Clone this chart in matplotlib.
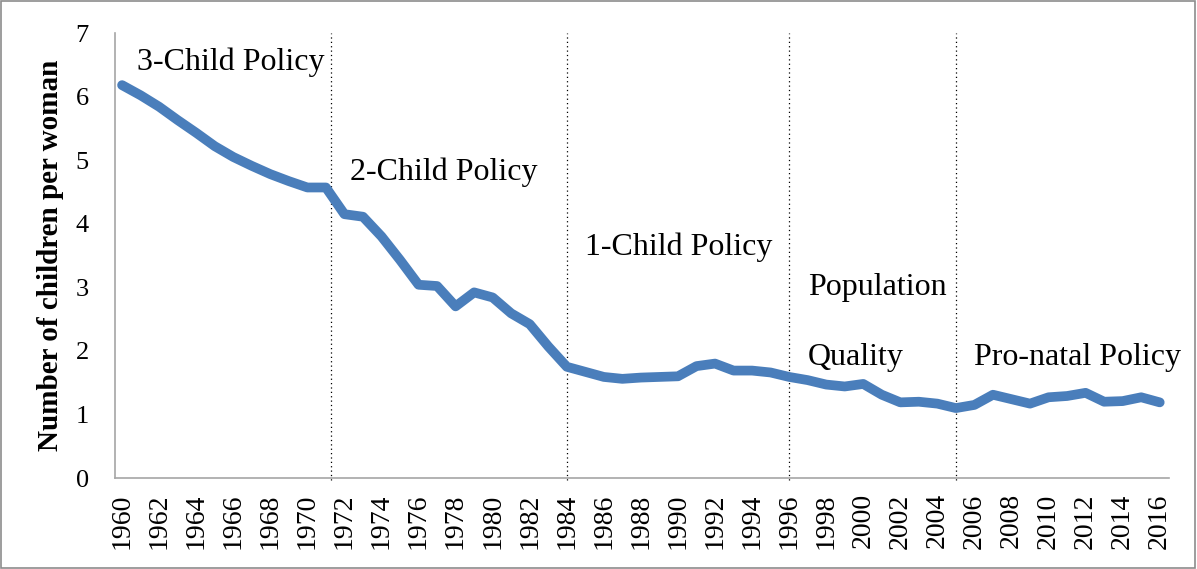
import matplotlib
matplotlib.use("Agg")
import matplotlib.pyplot as plt
from matplotlib.patches import Rectangle

years = list(range(1960, 2017))
fertility = [6.18, 6.02, 5.84, 5.63, 5.43, 5.22, 5.05, 4.91, 4.78, 4.67,
             4.57, 4.57, 4.15, 4.11, 3.80, 3.43, 3.04, 3.02, 2.70, 2.92,
             2.84, 2.59, 2.42, 2.07, 1.75, 1.67, 1.59, 1.56, 1.58, 1.59,
             1.60, 1.76, 1.80, 1.69, 1.69, 1.66, 1.59, 1.54, 1.47, 1.44,
             1.48, 1.31, 1.19, 1.20, 1.17, 1.10, 1.15, 1.31, 1.24, 1.17,
             1.27, 1.29, 1.34, 1.20, 1.21, 1.27, 1.19]
policy_breaks = [1971.3, 1984, 1996, 2005]
policy_labels = ["3-Child Policy", "2-Child Policy", "1-Child Policy",
                 "Population", "Quality", "Pro-natal Policy"]
label_x = [1960.8, 1972.3, 1985.0, 1997.0, 1997.0, 2006.0]
label_y = [6.54, 4.81, 3.63, 2.99, 1.90, 1.90]
xtick_labels = [str(y) for y in range(1960, 2017, 2)]
ylabel = "Number of children per woman"

serif = ["Liberation Serif", "DejaVu Serif"]
plt.rcParams['font.family'] = serif

fig = plt.figure(figsize=(11.97, 5.69), dpi=100)
fig.patches.append(Rectangle((0.001, 0.002), 0.997, 0.996, transform=fig.transFigure,
                             fill=False, edgecolor="#8c8c8c", linewidth=1.2))
ax = fig.add_axes([0.0961, 0.1599, 0.8805, 0.7821])

ax.plot(years, fertility, color="#4A7EBB", linewidth=7,
        solid_capstyle="round", solid_joinstyle="round", zorder=3)

for xb in policy_breaks:
    ax.axvline(xb, ymin=-0.005, ymax=1, color="black", linestyle=(0, (1, 2.5)),
               linewidth=0.9, zorder=2, clip_on=False)

for t, x, y in zip(policy_labels, label_x, label_y):
    ax.text(x, y, t, fontsize=23, ha="left", va="center", color="black")

ax.set_xlim(1959.62, 2016.5)
ax.set_ylim(0, 7)
ax.set_xticks(list(range(1960, 2017, 2)))
ax.set_xticklabels(xtick_labels, rotation=90, fontsize=20)
ax.set_yticks(range(0, 8))
ax.set_yticklabels([str(i) for i in range(0, 8)], fontsize=19)
ax.tick_params(axis="both", length=0)
ax.tick_params(axis="x", pad=11)
ax.tick_params(axis="y", pad=19)
ax.set_ylabel(ylabel, fontsize=21, fontweight="bold", labelpad=8)

for s in ["top", "right"]:
    ax.spines[s].set_visible(False)
for s in ["left", "bottom"]:
    ax.spines[s].set_color("#a6a6a6")
    ax.spines[s].set_linewidth(1.2)

fig.savefig("out.png", dpi=100)
